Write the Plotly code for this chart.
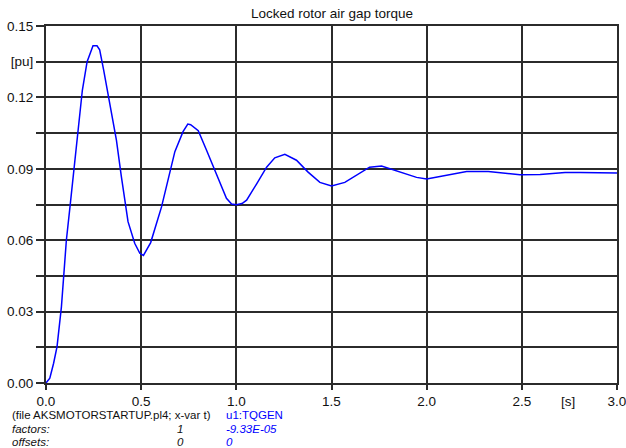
import plotly.graph_objects as go

# ---- data ----
time_s = [0.0, 0.02, 0.04, 0.058, 0.081, 0.093, 0.107, 0.128, 0.147, 0.165,
          0.191, 0.216, 0.247, 0.268, 0.282, 0.303, 0.339, 0.37, 0.396, 0.431,
          0.466, 0.493, 0.512, 0.55, 0.607, 0.650, 0.677, 0.72, 0.745, 0.76,
          0.80, 0.843, 0.896, 0.948, 0.975, 1.0, 1.03, 1.054, 1.106, 1.159,
          1.202, 1.255, 1.316, 1.377, 1.439, 1.50, 1.57, 1.64, 1.70, 1.763,
          1.86, 1.947, 2.0, 2.07, 2.21, 2.324, 2.49, 2.596, 2.727, 2.806, 3.0]
torque_pu = [0.0, 0.002, 0.0083, 0.0153, 0.032, 0.0447, 0.060, 0.0755, 0.0895, 0.105,
             0.123, 0.135, 0.1417, 0.1417, 0.140, 0.1315, 0.116, 0.102, 0.0867, 0.0678,
             0.0587, 0.0545, 0.0536, 0.059, 0.074, 0.088, 0.0972, 0.1056, 0.1088, 0.1085,
             0.106, 0.0979, 0.0874, 0.0776, 0.0752, 0.0749, 0.0754, 0.0768, 0.0836, 0.0907,
             0.0946, 0.0961, 0.0936, 0.0886, 0.0843, 0.0828, 0.0843, 0.0879, 0.0907, 0.0912,
             0.0886, 0.0864, 0.0857, 0.0868, 0.0889, 0.0889, 0.0875, 0.0876, 0.0884, 0.0884, 0.0882]

x_tick_vals = [0.0, 0.5, 1.0, 1.5, 2.0, 2.5, 3.0]
x_tick_text = ["0.0", "0.5", "1.0", "1.5", "2.0", "2.5", "3.0"]
y_tick_vals = [0.0, 0.015, 0.03, 0.045, 0.06, 0.075, 0.09, 0.105, 0.12, 0.135, 0.15]
y_tick_text = ["0.00", "", "0.03", "", "0.06", "", "0.09", "", "0.12", "[pu]", "0.15"]

title_text = "Locked rotor air gap torque"
FONT = "Liberation Sans, Arial, sans-serif"

W, H = 626, 448
ML, MR, MT, MB = 46, 9, 26, 65
PW, PH = W - ML - MR, H - MT - MB


def px_x(px):
    return (px - ML) / PW


def px_y(py):
    return (H - MB - py) / PH


fig = go.Figure()
fig.add_trace(go.Scatter(x=time_s, y=torque_pu, mode="lines",
                         line=dict(color="#0000ff", width=1.5),
                         showlegend=False, hoverinfo="skip"))

axis_common = dict(showline=True, linecolor="#2b2b2b", linewidth=2, mirror=True,
                   showgrid=True, gridcolor="#2b2b2b", gridwidth=2,
                   ticks="outside", tickcolor="#2b2b2b", tickwidth=2,
                   zeroline=False, automargin=False, ticklabeloverflow="allow",
                   tickfont=dict(family=FONT, size=13.5, color="#111111"))

fig.update_xaxes(range=[0, 3.0], tickmode="array", tickvals=x_tick_vals,
                 ticktext=x_tick_text, ticklen=5, **axis_common)
fig.update_yaxes(range=[0, 0.15], tickmode="array", tickvals=y_tick_vals,
                 ticktext=y_tick_text, ticklen=8, **axis_common)

ann = []
ann.append(dict(text=title_text, xref="paper", yref="paper", x=0.5, y=px_y(14),
                xanchor="center", yanchor="middle", showarrow=False,
                font=dict(family=FONT, size=13.5, color="#111111")))
ann.append(dict(text="[s]", xref="x", yref="paper", x=2.74, y=px_y(401),
                xanchor="center", yanchor="middle", showarrow=False,
                font=dict(family=FONT, size=13.5, color="#111111")))

rows = [
    ("(file AKSMOTORSTARTUP.pl4; x-var t)", "", "u1:TQGEN", 415, False),
    ("factors:", "1", "-9.33E-05", 428.5, True),
    ("offsets:", "0", "0", 442, True),
]
for lab, mid, blue, yy, ital in rows:
    st = "italic" if ital else "normal"
    ann.append(dict(text=lab, xref="paper", yref="paper", x=px_x(10), y=px_y(yy),
                    xanchor="left", yanchor="middle", showarrow=False,
                    font=dict(family=FONT, size=11.5, color="#111111", style=st)))
    if mid:
        ann.append(dict(text=mid, xref="paper", yref="paper", x=px_x(180), y=px_y(yy),
                        xanchor="center", yanchor="middle", showarrow=False,
                        font=dict(family=FONT, size=11.5, color="#111111", style=st)))
    ann.append(dict(text=blue, xref="paper", yref="paper", x=px_x(224), y=px_y(yy),
                    xanchor="left", yanchor="middle", showarrow=False,
                    font=dict(family=FONT, size=11.5, color="#0000ff", style=st)))

fig.update_layout(width=W, height=H, margin=dict(l=ML, r=MR, t=MT, b=MB, pad=0, autoexpand=False),
                  paper_bgcolor="white", plot_bgcolor="white",
                  annotations=ann, font=dict(family=FONT))

fig.write_html("out.html", config={"displayModeBar": False, "staticPlot": True},
               post_script="document.body.style.margin='0';document.body.style.padding='0';"
                           "document.body.style.overflow='hidden';")
